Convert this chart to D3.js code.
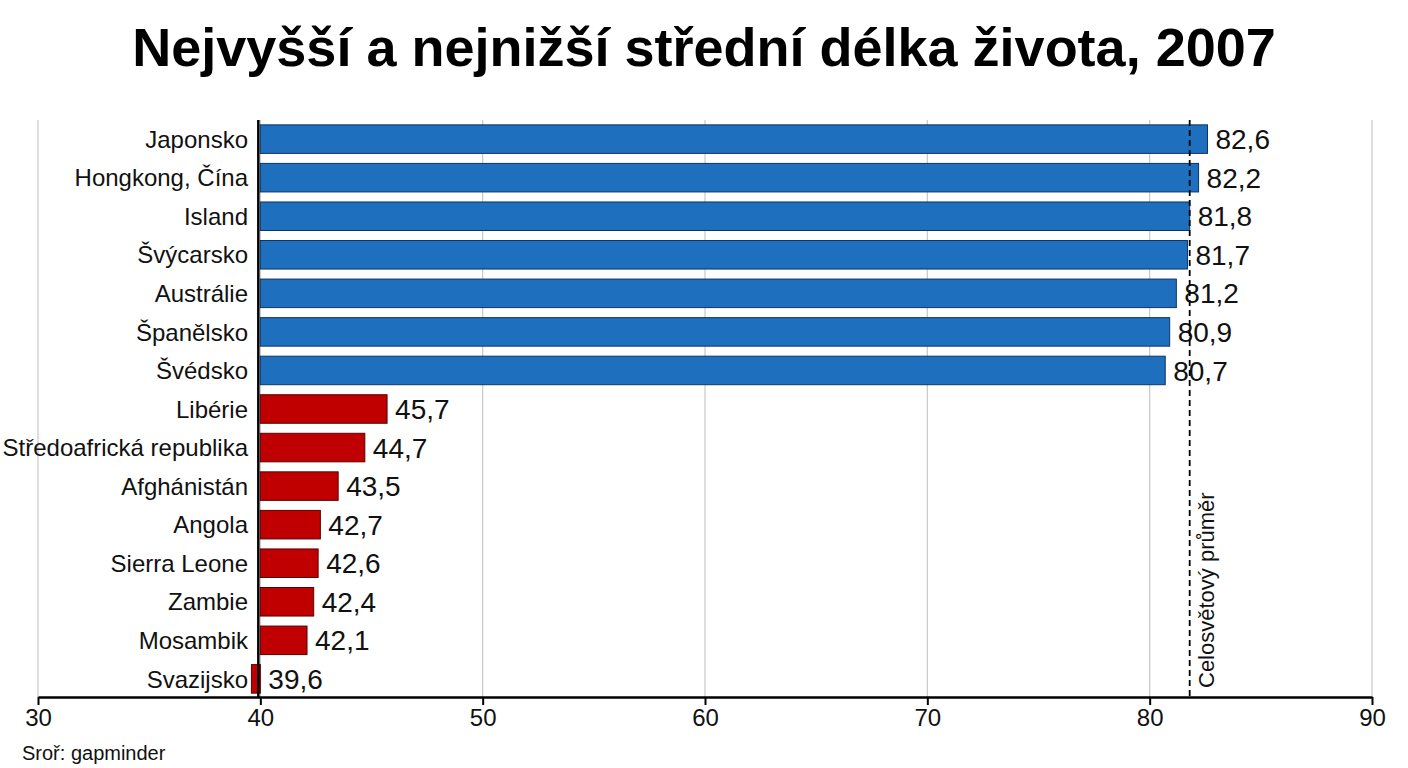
<!DOCTYPE html>
<html lang="cs">
<head>
<meta charset="UTF-8">
<script src="https://d3js.org/d3.v7.min.js"></script>
<style>
  body { margin: 0; background: #fff; }
  svg { display: block; font-family: 'Liberation Sans Narrow', 'Arial Narrow', 'Liberation Sans', sans-serif; }
</style>
</head>
<body>
<svg id="chart" width="1408" height="768"></svg>
<script>
const countries = ["Japonsko", "Hongkong, Čína", "Island", "Švýcarsko", "Austrálie", "Španělsko", "Švédsko",
  "Libérie", "Středoafrická republika", "Afghánistán", "Angola", "Sierra Leone", "Zambie", "Mosambik", "Svazijsko"];
const lifeExp = [82.6, 82.2, 81.8, 81.7, 81.2, 80.9, 80.7, 45.7, 44.7, 43.5, 42.7, 42.6, 42.4, 42.1, 39.6];
const groups = ["high", "high", "high", "high", "high", "high", "high", "low", "low", "low", "low", "low", "low", "low", "low"];
const worldAverage = 81.8;
const ticks = [30, 40, 50, 60, 70, 80, 90];

const svg = d3.select("#chart");
const x = d3.scaleLinear().domain([30, 90]).range([38, 1372]);
const y = d3.scaleBand().domain(countries).range([121, 697]).paddingInner(0.26).paddingOuter(0.1);
const color = { high: "#1f6fbf", low: "#c00000" };
const stroke = { high: "#0c3566", low: "#5a0000" };

svg.append("text").attr("x", 704).attr("y", 66).attr("text-anchor", "middle")
  .style("font-family", "'Liberation Sans', Arial, sans-serif")
  .attr("font-weight", "bold").attr("font-size", 54).text("Nejvyšší a nejnižší střední délka života, 2007");

// grid
svg.append("g").selectAll("line").data(ticks).join("line")
  .attr("x1", d => x(d)).attr("x2", d => x(d)).attr("y1", 120).attr("y2", 697)
  .attr("stroke", "#c8c8c8").attr("stroke-width", 1.2);

// bars
svg.append("g").selectAll("rect").data(countries).join("rect")
  .attr("x", (d, i) => x(Math.min(40, lifeExp[i])))
  .attr("width", (d, i) => Math.abs(x(lifeExp[i]) - x(40)))
  .attr("y", d => y(d)).attr("height", y.bandwidth())
  .attr("fill", (d, i) => color[groups[i]]).attr("stroke", (d, i) => stroke[groups[i]]).attr("stroke-width", 1);

// value labels
svg.append("g").selectAll("text").data(countries).join("text")
  .attr("x", (d, i) => Math.max(x(lifeExp[i]), x(40)) + 8)
  .attr("y", d => y(d) + y.bandwidth() / 2).attr("dy", "0.36em")
  .attr("font-size", 28).attr("fill", "#111")
  .text((d, i) => d3.format(".1f")(lifeExp[i]).replace(".", ","));

// category labels
svg.append("g").selectAll("text").data(countries).join("text")
  .attr("x", 248).attr("y", d => y(d) + y.bandwidth() / 2).attr("dy", "0.36em")
  .attr("text-anchor", "end").attr("font-size", 24).attr("fill", "#111").text(d => d);

// left axis line
svg.append("line").attr("x1", x(40) - 2).attr("x2", x(40) - 2).attr("y1", 120).attr("y2", 697)
  .attr("stroke", "#000").attr("stroke-width", 2.5);

// average
svg.append("line").attr("x1", x(worldAverage)).attr("x2", x(worldAverage)).attr("y1", 120).attr("y2", 697)
  .attr("stroke", "#000").attr("stroke-width", 1.8).attr("stroke-dasharray", "6,4");
svg.append("text").attr("transform", `translate(${x(worldAverage) + 24},688) rotate(-90)`)
  .attr("font-size", 22).attr("fill", "#111").text("Celosvětový průměr");

// x axis
const ax = svg.append("g").attr("transform", "translate(0,697)")
  .call(d3.axisBottom(x).tickValues(ticks).tickSize(8).tickSizeOuter(0));
ax.select(".domain").attr("stroke", "#000").attr("stroke-width", 2.5);
ax.selectAll(".tick line").attr("stroke", "#000").attr("stroke-width", 2);
ax.selectAll(".tick text").attr("font-size", 24).attr("fill", "#111").attr("y", 12)
  .style("font-family", "'Liberation Sans Narrow', 'Liberation Sans', sans-serif");

svg.append("text").attr("x", 22).attr("y", 760).attr("font-size", 20).attr("fill", "#111").text("Sroř: gapminder");
</script>
</body>
</html>
